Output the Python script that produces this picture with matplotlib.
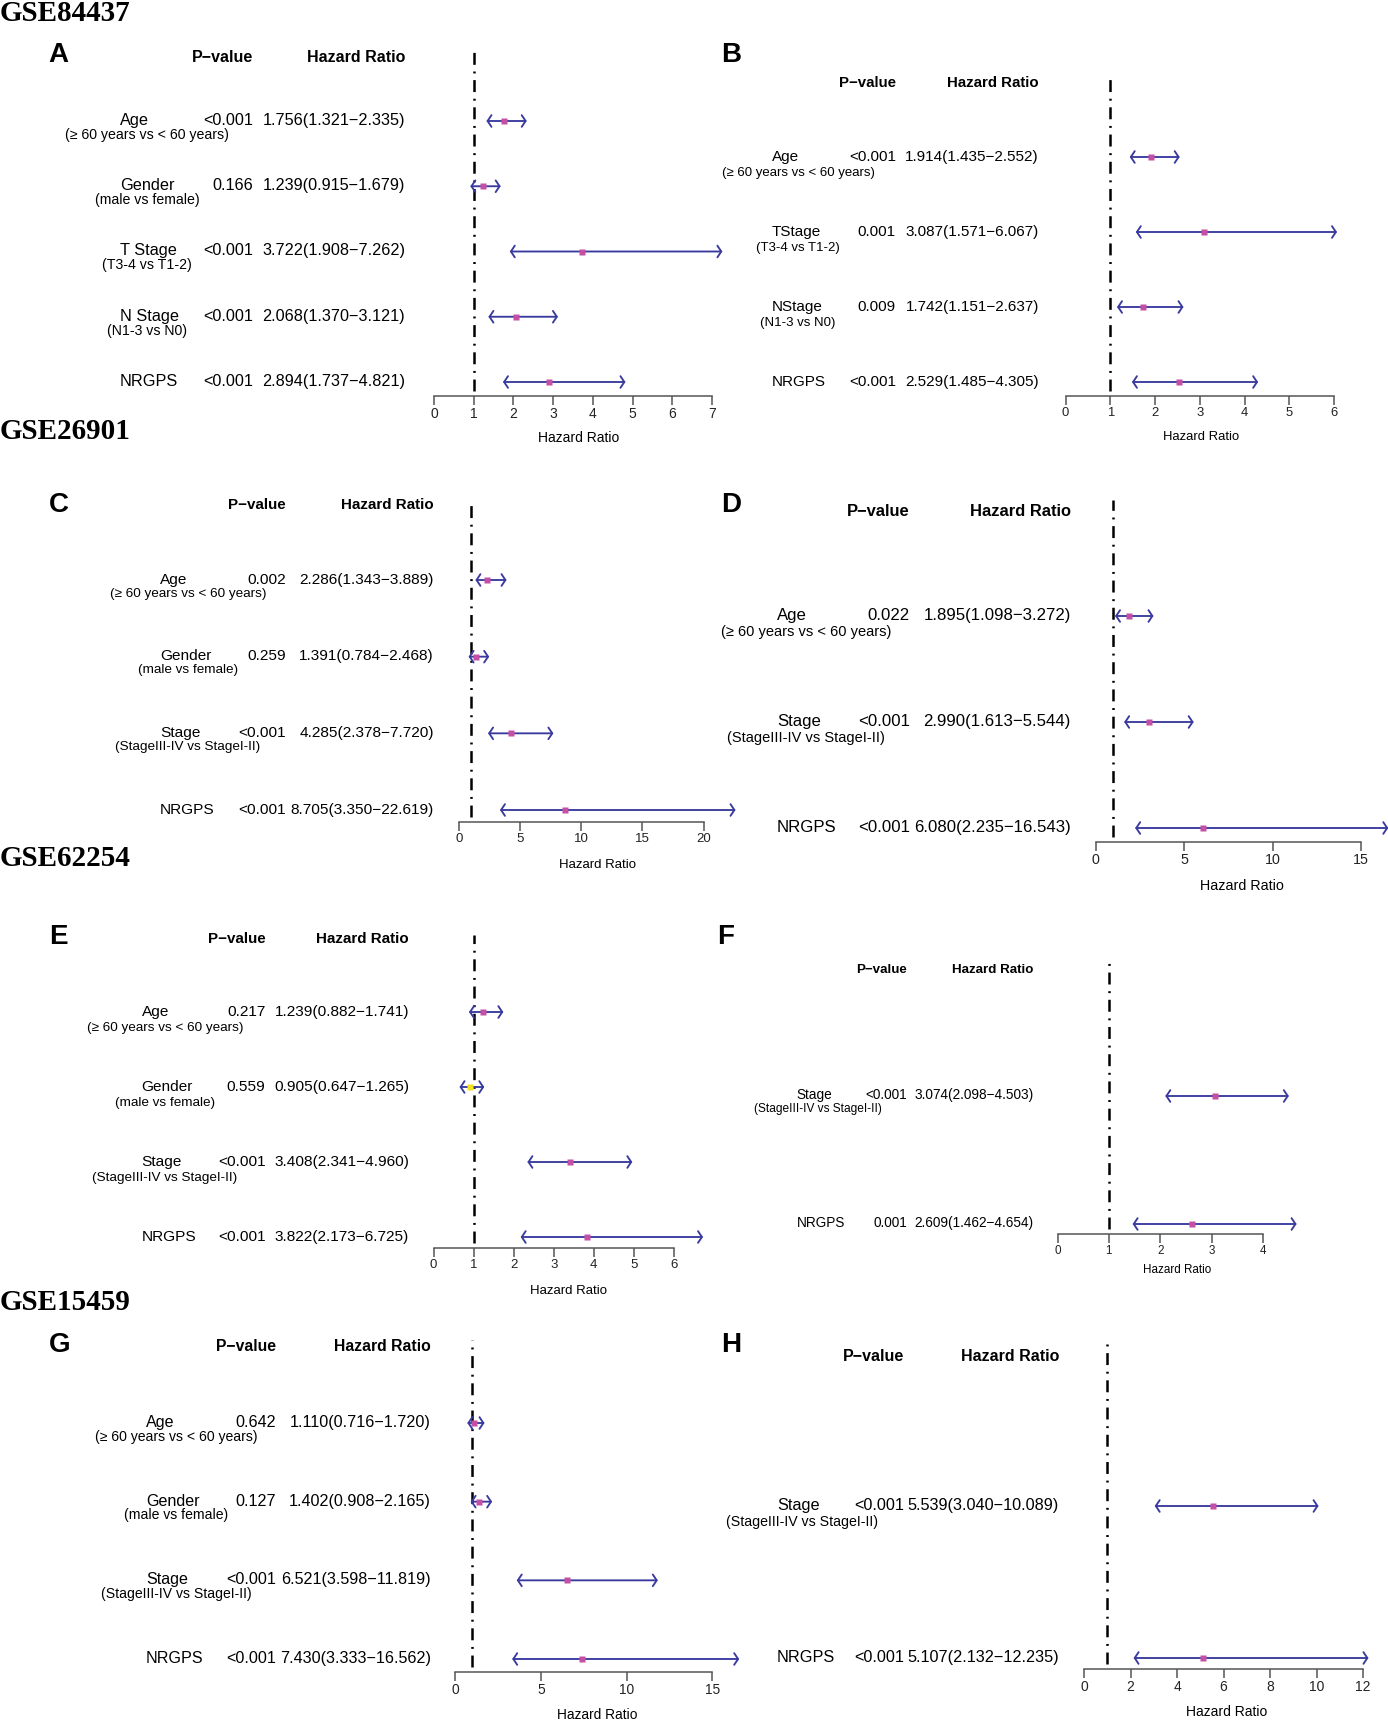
import numpy as np
import matplotlib.pyplot as plt
from matplotlib.patches import FancyArrowPatch

plt.rcParams['font.family'] = ['Liberation Sans', 'DejaVu Sans']
plt.rcParams['lines.scale_dashes'] = False

# ---------------- data ----------------
sub_of = {'Age': '(≥ 60 years vs < 60 years)', 'Gender': '(male vs female)',
          'T Stage': '(T3-4 vs T1-2)', 'TStage': '(T3-4 vs T1-2)',
          'N Stage': '(N1-3 vs N0)', 'NStage': '(N1-3 vs N0)',
          'Stage': '(StageIII-IV vs StageI-II)', 'NRGPS': ''}

# GSE84437
a_names = ['Age', 'Gender', 'T Stage', 'N Stage', 'NRGPS']
a_p = ['<0.001', '0.166', '<0.001', '<0.001', '<0.001']
a_hr = [1.756, 1.239, 3.722, 2.068, 2.894]
a_lo = [1.321, 0.915, 1.908, 1.370, 1.737]
a_hi = [2.335, 1.679, 7.262, 3.121, 4.821]

b_names = ['Age', 'TStage', 'NStage', 'NRGPS']
b_p = ['<0.001', '0.001', '0.009', '<0.001']
b_hr = [1.914, 3.087, 1.742, 2.529]
b_lo = [1.435, 1.571, 1.151, 1.485]
b_hi = [2.552, 6.067, 2.637, 4.305]

# GSE26901
c_names = ['Age', 'Gender', 'Stage', 'NRGPS']
c_p = ['0.002', '0.259', '<0.001', '<0.001']
c_hr = [2.286, 1.391, 4.285, 8.705]
c_lo = [1.343, 0.784, 2.378, 3.350]
c_hi = [3.889, 2.468, 7.720, 22.619]

d_names = ['Age', 'Stage', 'NRGPS']
d_p = ['0.022', '<0.001', '<0.001']
d_hr = [1.895, 2.990, 6.080]
d_lo = [1.098, 1.613, 2.235]
d_hi = [3.272, 5.544, 16.543]

# GSE62254
e_names = ['Age', 'Gender', 'Stage', 'NRGPS']
e_p = ['0.217', '0.559', '<0.001', '<0.001']
e_hr = [1.239, 0.905, 3.408, 3.822]
e_lo = [0.882, 0.647, 2.341, 2.173]
e_hi = [1.741, 1.265, 4.960, 6.725]

f_names = ['Stage', 'NRGPS']
f_p = ['<0.001', '0.001']
f_hr = [3.074, 2.609]
f_lo = [2.098, 1.462]
f_hi = [4.503, 4.654]

# GSE15459
g_names = ['Age', 'Gender', 'Stage', 'NRGPS']
g_p = ['0.642', '0.127', '<0.001', '<0.001']
g_hr = [1.110, 1.402, 6.521, 7.430]
g_lo = [0.716, 0.908, 3.598, 3.333]
g_hi = [1.720, 2.165, 11.819, 16.562]

h_names = ['Stage', 'NRGPS']
h_p = ['<0.001', '<0.001']
h_hr = [5.539, 5.107]
h_lo = [3.040, 2.132]
h_hi = [10.089, 12.235]

NAVY = '#3a3a9e'
MAG = '#c64fa6'
YEL = '#f2e21e'

W, H = 1388, 1720
PX = 100 / 72
fig = plt.figure(figsize=(W / 100, H / 100), dpi=100)
bg = fig.add_axes([0, 0, 1, 1])
bg.set_xlim(0, W)
bg.set_ylim(H, 0)
bg.axis('off')


def put(x, yc, s, size, k=0.36, **kw):
    # yc is the visual centre of the text, convert to baseline
    bg.text(x, yc + k * size * PX, s, fontsize=size, va='baseline', **kw)


def panel(letter, names, pv, hr, lo, hi, ticks, L):
    sc = L['sc']
    n = len(names)
    rows = np.linspace(L['r0'], L['r1'], n)

    put(L['lx'], L['ly'], letter, 20, weight='bold', ha='left')
    put(L['px'], L['hy'], 'P−value', 11.5 * sc, weight='bold', ha='right')
    put(L['hx'], L['hy'], 'Hazard Ratio', 11.5 * sc, weight='bold', ha='right')
    for i in range(n):
        y = rows[i]
        put(L['nx'], y, names[i], 11.7 * sc, k=0.24, ha='left')
        if sub_of[names[i]]:
            put(L['sx'], y + L['sdy'], sub_of[names[i]], 10.2 * sc, k=0.27, ha='center')
        put(L['px'], y, pv[i], 11.7 * sc, k=0.24, ha='right')
        put(L['hx'], y, '%.3f(%.3f−%.3f)' % (hr[i], lo[i], hi[i]), 11.7 * sc, k=0.24, ha='right')

    # forest part
    xmax = max(hi)
    unit = (L['xt'] - L['x0']) / ticks[-1]
    left, right = L['x0'], L['x0'] + xmax * unit
    top, bot = L['top'], L['axy']
    ax = fig.add_axes([left / W, 1 - bot / H, (right - left) / W, (bot - top) / H])
    ax.set_facecolor('none')
    ax.set_xlim(0, xmax)
    sp = (rows[-1] - rows[0]) / (n - 1)
    ax.set_ylim((bot - rows[0]) / sp, (top - rows[0]) / sp)

    ax.axvline(1, ymin=5 / (bot - top), ymax=1, color='black', lw=1.8,
               dashes=(8.6, 4.8, 1.4, 4.8))
    for i in range(n):
        arr = FancyArrowPatch((lo[i], i), (hi[i], i),
                              arrowstyle='<->,head_length=0.28,head_width=0.42',
                              mutation_scale=10, color=NAVY, lw=1.35,
                              shrinkA=0, shrinkB=0, zorder=3)
        ax.add_patch(arr)
        arr.set_clip_on(False)
        ax.plot(hr[i], i, 's', ms=5.0, color=MAG if hr[i] > 1 else YEL,
                mec='none', clip_on=False, zorder=4)

    for s in ['top', 'left', 'right']:
        ax.spines[s].set_visible(False)
    ax.spines['bottom'].set_color('#555555')
    ax.spines['bottom'].set_linewidth(1.1)
    ax.spines['bottom'].set_bounds(ticks[0], ticks[-1])
    ax.set_yticks([])
    ax.set_xticks(ticks)
    ax.tick_params(axis='x', length=6.5, width=1.1, color='#555555', pad=1.4,
                   labelsize=10 * sc, labelcolor='#222222')
    put((left + right) / 2, bot + L['xl'], 'Hazard Ratio', 10 * sc, ha='center')


def title(y, s):
    bg.text(0, y, s, fontsize=21, family='Liberation Serif', weight='bold', va='baseline')


title(21, 'GSE84437')
title(439, 'GSE26901')
title(866, 'GSE62254')
title(1310, 'GSE15459')

panel('A', a_names, a_p, a_hr, a_lo, a_hi, list(range(0, 8)),
      dict(sc=1.0, lx=48, ly=52, hy=56, nx=120, sx=147, sdy=14, px=253, hx=405,
           r0=121, r1=382, top=48, axy=396, x0=434, xt=712, xl=41))
panel('B', b_names, b_p, b_hr, b_lo, b_hi, list(range(0, 7)),
      dict(sc=0.94, lx=721, ly=52, hy=82, nx=772, sx=798, sdy=15, px=896, hx=1039,
           r0=157, r1=382, top=78, axy=396, x0=1065.5, xt=1334, xl=39))
panel('C', c_names, c_p, c_hr, c_lo, c_hi, list(range(0, 21, 5)),
      dict(sc=0.95, lx=48.7, ly=502, hy=504, nx=160, sx=188, sdy=13, px=286, hx=434,
           r0=580, r1=810, top=500, axy=822, x0=459, xt=703.5, xl=41))
panel('D', d_names, d_p, d_hr, d_lo, d_hi, list(range(0, 16, 5)),
      dict(sc=1.03, lx=721, ly=502.5, hy=510, nx=777, sx=806, sdy=16, px=910, hx=1071,
           r0=616, r1=828, top=500, axy=842, x0=1095.6, xt=1361, xl=43))
panel('E', e_names, e_p, e_hr, e_lo, e_hi, list(range(0, 7)),
      dict(sc=0.95, lx=48.7, ly=934.5, hy=938, nx=141.6, sx=165, sdy=15, px=265.5, hx=409,
           r0=1012, r1=1237, top=935, axy=1248, x0=433.6, xt=674, xl=41))
panel('F', f_names, f_p, f_hr, f_lo, f_hi, list(range(0, 5)),
      dict(sc=0.84, lx=717, ly=934.5, hy=968, nx=796.5, sx=818, sdy=13, px=907, hx=1033.6,
           r0=1096, r1=1224, top=957, axy=1234, x0=1057.5, xt=1263, xl=35))
panel('G', g_names, g_p, g_hr, g_lo, g_hi, list(range(0, 16, 5)),
      dict(sc=0.99, lx=48.7, ly=1342, hy=1345, nx=146, sx=176, sdy=14, px=276, hx=431,
           r0=1423, r1=1659, top=1340, axy=1672, x0=455, xt=712.4, xl=42))
panel('H', h_names, h_p, h_hr, h_lo, h_hi, list(range(0, 13, 2)),
      dict(sc=1.0, lx=721, ly=1342, hy=1355, nx=777, sx=802, sdy=16, px=904.4, hx=1059,
           r0=1506, r1=1658, top=1343, axy=1669, x0=1084, xt=1363, xl=42))

fig.savefig('out.png', dpi=100)
